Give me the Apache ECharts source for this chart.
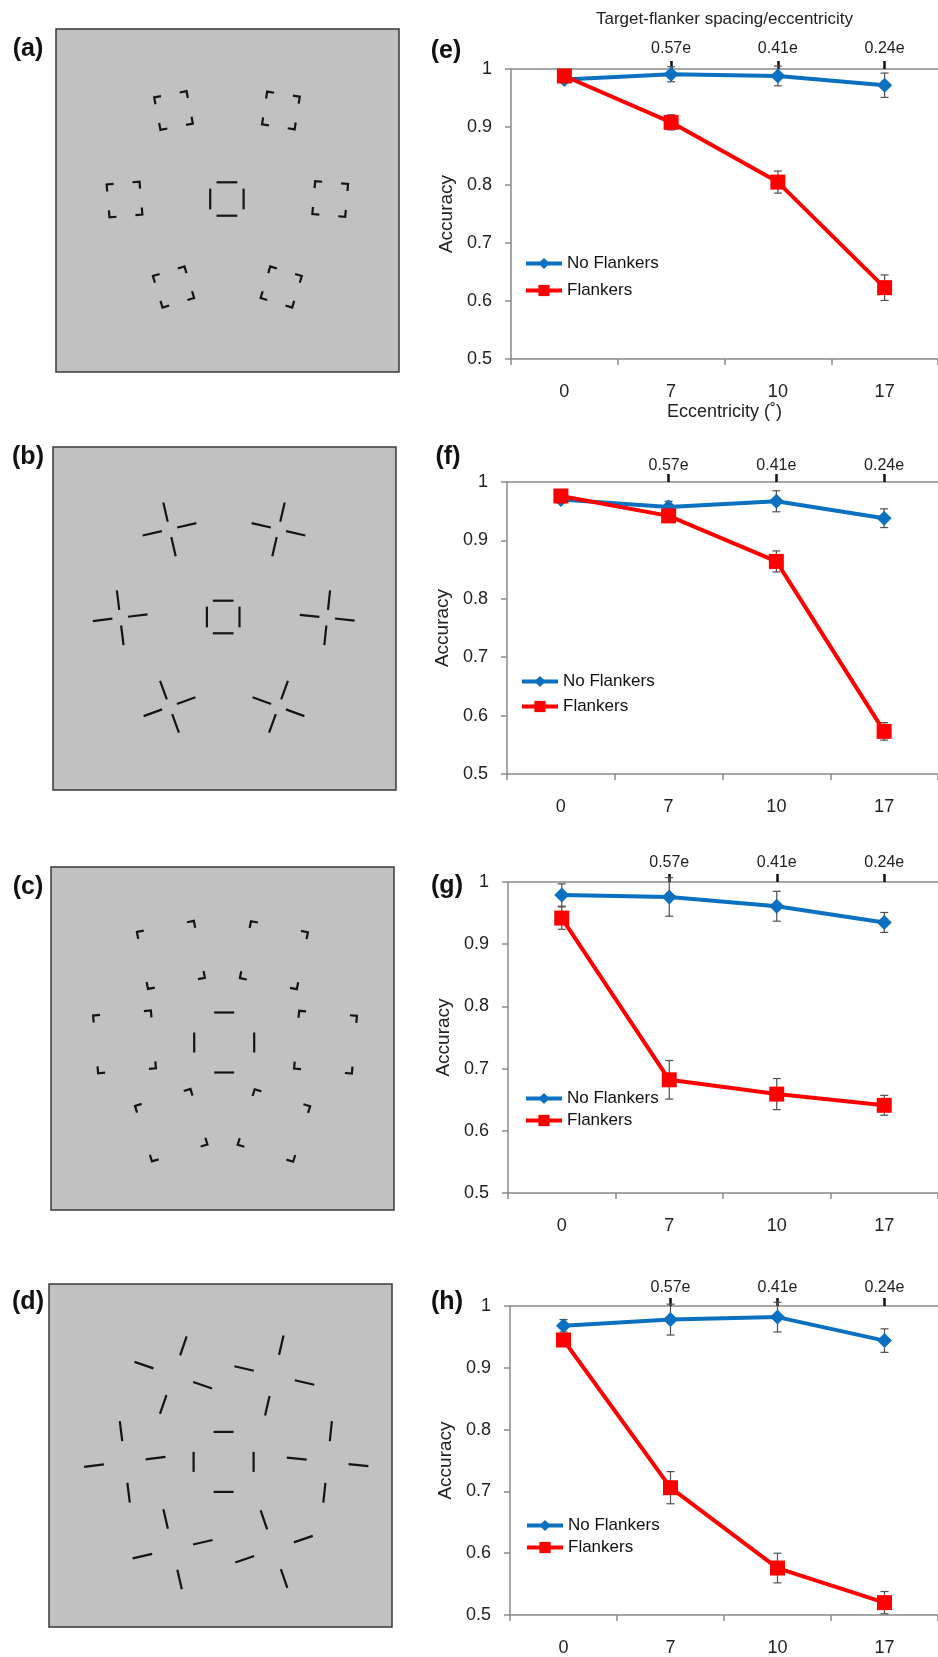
<!DOCTYPE html>
<html>
<head>
<meta charset="utf-8">
<script src="https://cdn.jsdelivr.net/npm/echarts@6/dist/echarts.min.js"></script>
<style>
html,body{margin:0;padding:0;background:#fff;}
#main{width:938px;height:1657px;}
</style>
</head>
<body>
<div id="main"></div>
<script>
// ---------- data ----------
const categories = ['0', '7', '10', '17'];
const spacingLabels = ['', '0.57e', '0.41e', '0.24e'];
const seriesNames = ['No Flankers', 'Flankers'];
const yTickValues = [0.5, 0.6, 0.7, 0.8, 0.9, 1];

const eNoFlankers = [0.982, 0.991, 0.988, 0.972];
const eNoFlankersErr = [0.006, 0.013, 0.017, 0.021];
const eFlankers = [0.988, 0.908, 0.805, 0.623];
const eFlankersErr = [0.007, 0.013, 0.019, 0.022];

const fNoFlankers = [0.970, 0.957, 0.967, 0.938];
const fNoFlankersErr = [0.006, 0.010, 0.018, 0.016];
const fFlankers = [0.976, 0.942, 0.864, 0.573];
const fFlankersErr = [0.006, 0.008, 0.018, 0.015];

const gNoFlankers = [0.979, 0.976, 0.961, 0.935];
const gNoFlankersErr = [0.018, 0.031, 0.024, 0.016];
const gFlankers = [0.942, 0.682, 0.659, 0.641];
const gFlankersErr = [0.018, 0.031, 0.025, 0.016];

const hNoFlankers = [0.968, 0.978, 0.982, 0.944];
const hNoFlankersErr = [0.010, 0.025, 0.024, 0.019];
const hFlankers = [0.945, 0.706, 0.576, 0.520];
const hFlankersErr = [0.010, 0.026, 0.024, 0.018];

// stimulus layouts: [x, y, rotation deg] relative to display centre (y downwards)
const aTarget = [-0.6, -1.5];
const aFlankers = [[-54, -90, -11], [53.4, -90, 9], [-103, -1, -5], [102.7, -1.5, 5], [-54, 86.5, -17], [53.7, 86.5, 17]];
const bTarget = [-1.3, -1.5];
const bFlankers = [[-55, -89.2, -13], [54, -89.2, 13], [-104.3, -0.8, -7], [102.7, -0.8, 6], [-55, 88.2, -20], [54, 88.2, 20]];
const cTarget = [1.7, 4];
const cFlankers = [[-51.6, -83.6, -11], [51.4, -83.3, 11], [-98, 3.4, -5], [103, 3.7, 5], [-51.3, 86.7, -17], [51.4, 87, 17]];
const dTarget = [3.1, 6.4];
const dFlankers = [[-47.2, -80.3, 19], [53.8, -80, 13], [-95.7, 6.4, -7], [107.1, 6.4, 6], [-47.9, 93.7, -13], [53.5, 93.7, -19]];

// ---------- styling / geometry ----------
const FONT = '"Liberation Sans", Arial, sans-serif';
const shapeA = {kind: 'corner', h: 16.5, a: 7, th: 16.7, tl: 20.7};
const shapeB = {kind: 'cross', r: 17.7, l: 19.7, th: 16.3, tl: 20.7};
const shapeC = {kind: 'corner', h: 29, a: 7, th: 30, tl: 20};
const shapeD = {kind: 'cross', r: 31, l: 20, th: 30, tl: 20};

const stimGrids = [
  {left: 56, top: 29, width: 343, height: 343},
  {left: 53, top: 447, width: 343, height: 343},
  {left: 51, top: 867, width: 343, height: 343},
  {left: 49, top: 1284, width: 343, height: 343}
];
const chartGrids = [
  {left: 511, top: 69, width: 431, height: 290},
  {left: 507, top: 482, width: 434, height: 292},
  {left: 508, top: 882, width: 438, height: 311},
  {left: 510, top: 1306, width: 439, height: 312}
];

function rot(p, ang) {
  const c = Math.cos(ang), s = Math.sin(ang);
  return [p[0] * c - p[1] * s, p[0] * s + p[1] * c];
}
function targetSegs(h, l) {
  return [[[-l / 2, -h], [l / 2, -h]], [[-l / 2, h], [l / 2, h]], [[-h, -l / 2], [-h, l / 2]], [[h, -l / 2], [h, l / 2]]];
}
function flankerSegs(cfg) {
  if (cfg.kind === 'corner') {
    return [[-1, -1], [1, -1], [1, 1], [-1, 1]].map(([sx, sy]) => {
      const vx = sx * cfg.h, vy = sy * cfg.h;
      return [[vx - sx * cfg.a, vy], [vx, vy], [vx, vy - sy * cfg.a]];
    });
  }
  return [0, 90, 180, 270].map(d => {
    const t = d * Math.PI / 180;
    const dx = Math.sin(t), dy = -Math.cos(t);
    const r0 = cfg.r - cfg.l / 2, r1 = cfg.r + cfg.l / 2;
    return [[dx * r0, dy * r0], [dx * r1, dy * r1]];
  });
}
function stimulusSeries(idx, target, flankers, cfg) {
  const data = [[target[0], target[1], 0, 0]].concat(flankers.map(f => [f[0], f[1], f[2], 1]));
  return {
    type: 'custom', xAxisIndex: idx, yAxisIndex: idx, data: data, silent: true, animation: false,
    renderItem: function (params, api) {
      const c = api.coord([api.value(0), api.value(1)]);
      const k = Math.abs(api.size([1, 1])[0]);
      const ang = api.value(2) * Math.PI / 180;
      const segs = api.value(3) === 1 ? flankerSegs(cfg) : targetSegs(cfg.th, cfg.tl);
      return {
        type: 'group',
        children: segs.map(poly => ({
          type: 'polyline',
          shape: {points: poly.map(p => rot(p, ang)).map(p => [c[0] + p[0] * k, c[1] + p[1] * k])},
          style: {stroke: '#141414', lineWidth: 2.2, fill: null, lineJoin: 'miter', lineCap: 'butt'}
        }))
      };
    }
  };
}
function errSeries(axisX, axisY, vals, errs) {
  return {
    type: 'custom', xAxisIndex: axisX, yAxisIndex: axisY, silent: true, animation: false, z: 1,
    data: vals.map((v, i) => [i, v - errs[i], v + errs[i]]),
    renderItem: function (params, api) {
      const lo = api.coord([api.value(0), api.value(1)]);
      const hi = api.coord([api.value(0), api.value(2)]);
      const w = 4;
      const st = {stroke: '#505050', lineWidth: 1.2};
      return {type: 'group', children: [
        {type: 'line', shape: {x1: lo[0], y1: lo[1], x2: hi[0], y2: hi[1]}, style: st},
        {type: 'line', shape: {x1: lo[0] - w, y1: lo[1], x2: lo[0] + w, y2: lo[1]}, style: st},
        {type: 'line', shape: {x1: hi[0] - w, y1: hi[1], x2: hi[0] + w, y2: hi[1]}, style: st}
      ]};
    }
  };
}

const grids = stimGrids.map(g => Object.assign({show: true, backgroundColor: '#c1c1c1', borderColor: '#3a3a3a', borderWidth: 1.5}, g))
  .concat(chartGrids.map(g => Object.assign({show: false}, g)));

const xAxes = [], yAxes = [];
for (let i = 0; i < 4; i++) {
  xAxes.push({type: 'value', gridIndex: i, min: -171.5, max: 171.5, show: false});
  yAxes.push({type: 'value', gridIndex: i, min: -171.5, max: 171.5, inverse: true, show: false});
}
const topLabelMargin = [12.5, 8.5, 11.7, 10.5];
for (let i = 0; i < 4; i++) {
  const gi = 4 + i;
  xAxes.push({
    type: 'category', gridIndex: gi, data: categories, position: 'bottom',
    axisLine: {onZero: false, lineStyle: {color: '#8a8a8a', width: 1.5}},
    axisTick: {show: true, length: 6, lineStyle: {color: '#8a8a8a', width: 1.5}},
    axisLabel: {interval: 0, margin: 24, fontSize: 18, color: '#222', fontFamily: FONT},
    name: i === 0 ? 'Eccentricity (˚)' : '', nameLocation: 'middle', nameGap: 44,
    nameTextStyle: {fontSize: 18, color: '#222', fontFamily: FONT}
  });
  xAxes.push({
    type: 'category', gridIndex: gi, data: spacingLabels, position: 'top',
    axisLine: {onZero: false, lineStyle: {color: '#8a8a8a', width: 1.5}},
    axisTick: {show: true, alignWithLabel: true, length: 8, interval: function (idx) { return idx > 0; },
      lineStyle: {color: '#111', width: 2.5}},
    axisLabel: {interval: 0, margin: topLabelMargin[i], fontSize: 16, color: '#222', fontFamily: FONT},
    name: i === 0 ? 'Target-flanker spacing/eccentricity' : '', nameLocation: 'middle', nameGap: 41,
    nameTextStyle: {fontSize: 17, color: '#222', fontFamily: FONT}
  });
  yAxes.push({
    type: 'value', gridIndex: gi, min: yTickValues[0], max: yTickValues[yTickValues.length - 1], interval: 0.1,
    axisLine: {show: true, lineStyle: {color: '#8a8a8a', width: 1.5}},
    axisTick: {show: true, length: 6, lineStyle: {color: '#8a8a8a', width: 1.5}},
    splitLine: {show: false},
    axisLabel: {margin: 19, fontSize: 18, color: '#222', fontFamily: FONT,
      formatter: v => String(Number(v.toFixed(2)))},
    name: 'Accuracy', nameLocation: 'middle', nameRotate: 90, nameGap: 55,
    nameTextStyle: {fontSize: 19, color: '#222', fontFamily: FONT}
  });
}

const chartData = [
  [eNoFlankers, eNoFlankersErr, eFlankers, eFlankersErr],
  [fNoFlankers, fNoFlankersErr, fFlankers, fFlankersErr],
  [gNoFlankers, gNoFlankersErr, gFlankers, gFlankersErr],
  [hNoFlankers, hNoFlankersErr, hFlankers, hFlankersErr]
];

const series = [
  stimulusSeries(0, aTarget, aFlankers, shapeA),
  stimulusSeries(1, bTarget, bFlankers, shapeB),
  stimulusSeries(2, cTarget, cFlankers, shapeC),
  stimulusSeries(3, dTarget, dFlankers, shapeD)
];
chartData.forEach((d, i) => {
  const xi = 4 + i * 2, yi = 4 + i;
  series.push(errSeries(xi, yi, d[0], d[1]));
  series.push(errSeries(xi, yi, d[2], d[3]));
  series.push({
    type: 'line', name: seriesNames[0], xAxisIndex: xi, yAxisIndex: yi, data: d[0], z: 2,
    symbol: 'diamond', symbolSize: 15, itemStyle: {color: '#0A70BF'},
    lineStyle: {color: '#0A70BF', width: 4}, animation: false
  });
  series.push({
    type: 'line', name: seriesNames[1], xAxisIndex: xi, yAxisIndex: yi, data: d[2], z: 3,
    symbol: 'rect', symbolSize: 15, itemStyle: {color: '#FF0000'},
    lineStyle: {color: '#FF0000', width: 4}, animation: false
  });
});

const legendTops = [250, 668, 1085, 1512];
const legendGaps = [10, 8, 5, 5];
const legendLefts = [519, 515, 519, 520];
const legends = legendTops.map((t, i) => ({
  data: seriesNames, orient: 'vertical', left: legendLefts[i], top: t, itemGap: legendGaps[i],
  itemWidth: 36, itemHeight: 14, selectedMode: false,
  lineStyle: {width: 4},
  textStyle: {fontSize: 17, color: '#111', fontFamily: FONT}
}));

const panelLabels = [
  ['(a)', 28, 49], ['(b)', 28, 457], ['(c)', 28, 887], ['(d)', 28, 1302],
  ['(e)', 446, 51], ['(f)', 448, 457], ['(g)', 447, 886], ['(h)', 447, 1302]
];

const chart = echarts.init(document.getElementById('main'), null, {renderer: 'canvas'});
chart.setOption({
  backgroundColor: '#ffffff',
  animation: false,
  grid: grids,
  xAxis: xAxes,
  yAxis: yAxes,
  legend: legends,
  series: series,
  graphic: panelLabels.map(p => ({
    type: 'text', x: p[1], y: p[2],
    style: {text: p[0], fontSize: 25, fontWeight: 'bold', fontFamily: FONT, fill: '#111',
      align: 'center', verticalAlign: 'middle', textAlign: 'center', textVerticalAlign: 'middle'}
  }))
});
</script>
</body>
</html>
